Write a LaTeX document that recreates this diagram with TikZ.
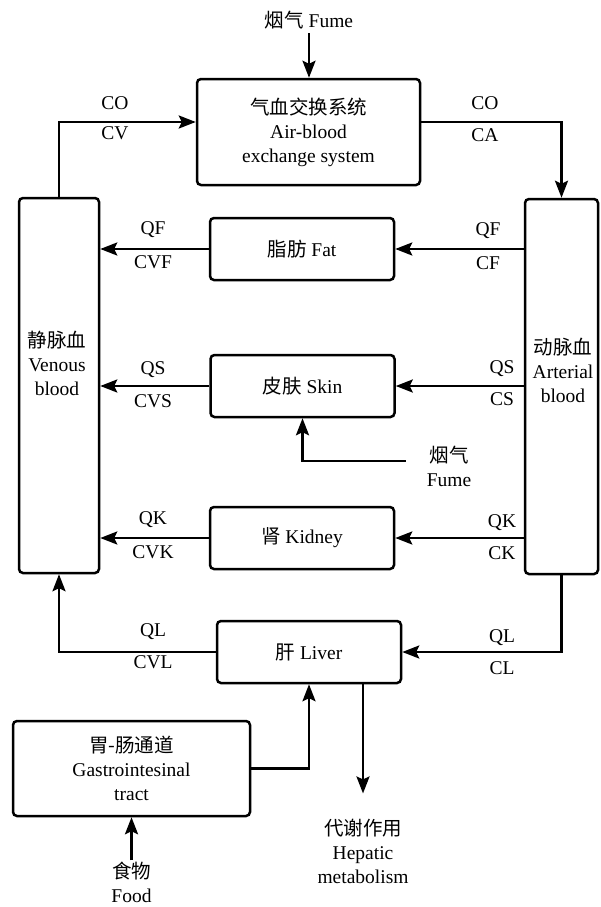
\documentclass[tikz,border=0pt]{standalone}
\usepackage{fontspec}
\setmainfont{Liberation Serif}
\newfontfamily\cjk{Noto Sans CJK SC}
\newcommand{\zh}[1]{{\cjk #1}}
\usetikzlibrary{arrows.meta}
\begin{document}
\begin{tikzpicture}[x=1pt, y=-1pt, line width=2.5pt,
        >={Stealth[length=17pt, width=13pt, inset=3pt]},
        font=\fontsize{19.5}{24}\selectfont,
        main/.style={rectangle, draw, rounded corners=4pt, align=center, inner sep=0pt},
        organ/.style={main, minimum width=184pt, minimum height=62pt},
        blood/.style={main, minimum height=375pt},
        txt/.style={align=center, inner sep=0pt}]
        \useasboundingbox (0,0) rectangle (600,907);
        \node[main, minimum width=223pt, minimum height=106pt] (1) at (308.5,132) {\zh{气血交换系统}\\Air-blood\\exchange system};
        \node[blood, minimum width=80pt] (2) at (59,385.5) {};
        \node[blood, minimum width=73pt] (3) at (561.5,386.5) {};
        \node[txt] (2t) at (57,363) {\zh{静脉血}\\Venous\\blood};
        \node[txt] (3t) at (563,370) {\zh{动脉血}\\Arterial\\blood};
        \node[organ] (4) at (302,249) {\zh{脂肪} Fat};
        \node[organ] (5) at (302.5,386) {\zh{皮肤} Skin};
        \node[organ] (6) at (302,538) {\zh{肾} Kidney};
        \node[organ] (7) at (309,652) {\zh{肝} Liver};
        \node[main, minimum width=237pt, minimum height=95pt] (8) at (131.5,768.5) {\zh{胃-肠通道}\\Gastrointesinal\\tract};
        \node[txt] (9) at (309,20) {\zh{烟气} Fume};
        \node[txt] (10) at (449,466) {\zh{烟气}\\Fume};
        \node[txt] (11) at (131.5,882) {\zh{食物}\\Food};
        \node[txt] (12) at (363,851) {\zh{代谢作用}\\Hepatic\\metabolism};
        % flow labels
        \node[txt] (CO-l) at (115,103) {CO};
        \node[txt] (CV) at (115,133) {CV};
        \node[txt] (CO-r) at (485,103) {CO};
        \node[txt] (CA) at (485,135) {CA};
        \node[txt] (QF-l) at (153,230) {QF};
        \node[txt] (CVF) at (153,262) {CVF};
        \node[txt] (QF-r) at (488,231) {QF};
        \node[txt] (CF) at (488,263) {CF};
        \node[txt] (QS-l) at (153,370) {QS};
        \node[txt] (CVS) at (153,401) {CVS};
        \node[txt] (QS-r) at (502,369) {QS};
        \node[txt] (CS) at (502,399) {CS};
        \node[txt] (QK-l) at (153,520) {QK};
        \node[txt] (CVK) at (153,552) {CVK};
        \node[txt] (QK-r) at (502,523) {QK};
        \node[txt] (CK) at (502,553) {CK};
        \node[txt] (QL-l) at (153,632) {QL};
        \node[txt] (CVL) at (153,662) {CVL};
        \node[txt] (QL-r) at (502,638) {QL};
        \node[txt] (CL) at (502,668) {CL};
        % connectors
        \draw[->, shorten <=3pt] (9.south) -- (9.south |- 1.north);
        \draw[->] (2.north) |- ([yshift=10pt]1.west);
        \draw[->] ([yshift=10pt]1.east) -| (3.north);
        \draw[->] (3.west |- 4) -- (4);
        \draw[->] (4) -- (2.east |- 4);
        \draw[->] (3.west |- 5) -- (5);
        \draw[->] (5) -- (2.east |- 5);
        \draw[->] (3.west |- 6) -- (6);
        \draw[->] (6) -- (2.east |- 6);
        \draw[->] (3.south) |- (7);
        \draw[->] (7) -| (2.south);
        \draw[->] (8) -| (7.south);
        \draw[->, shorten >=24pt] (7.south -| 12.north) -- (12.north);
        \draw[->] (11) -- (8);
        \draw[->] ([shift={(-20pt,5pt)}]10.west) -| (5.south);
    \end{tikzpicture}
\end{document}
